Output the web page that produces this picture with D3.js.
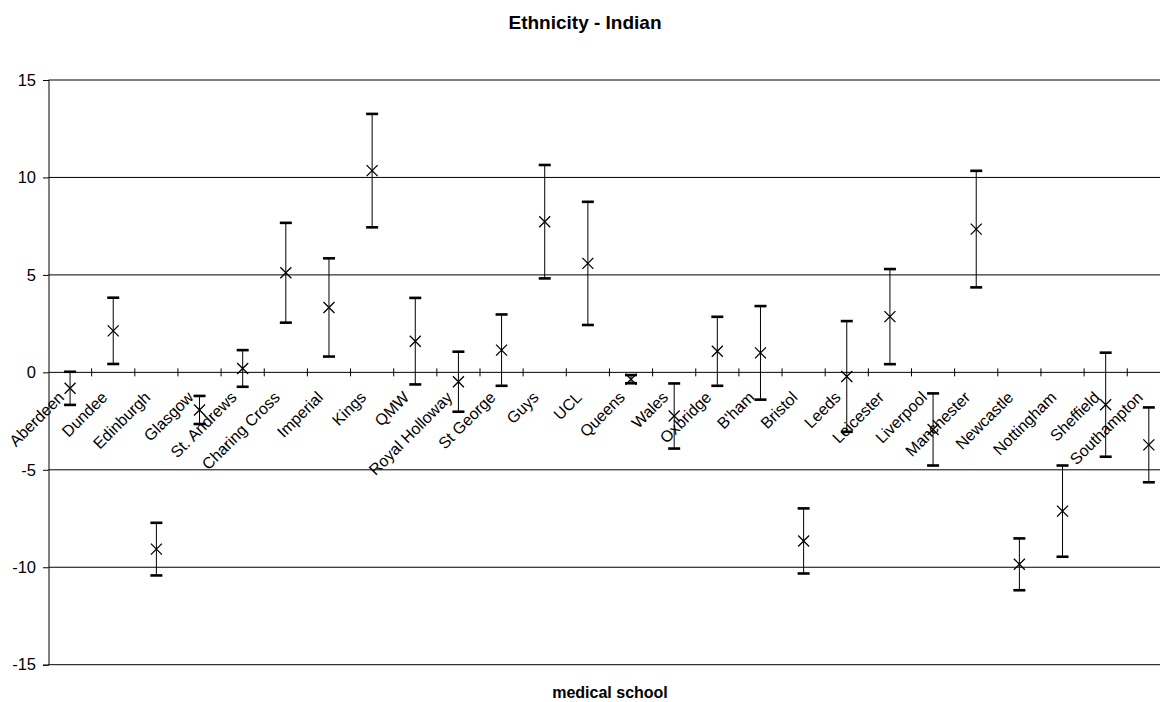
<!DOCTYPE html>
<html>
<head>
    <meta charset="utf-8">
    <title>Ethnicity - Indian</title>
    <script src="https://d3js.org/d3.v7.min.js"></script>
    <style>
        body { margin: 0; background: #fff; }
        text { font-family: Arial, "Liberation Sans", sans-serif; fill: #000; }
    </style>
</head>
<body>
    <svg width="1160" height="702"></svg>
    <script>
        // medical schools (category axis)
        const schools = ["Aberdeen", "Dundee", "Edinburgh", "Glasgow", "St. Andrews", "Charing Cross",
            "Imperial", "Kings", "QMW", "Royal Holloway", "St George", "Guys", "UCL", "Queens", "Wales",
            "Oxbridge", "B'ham", "Bristol", "Leeds", "Leicester", "Liverpool", "Manchester", "Newcastle",
            "Nottingham", "Sheffield", "Southampton"];

        // point estimate for each school
        const values = [-0.82, 2.13, -9.07, -1.93, 0.2, 5.11, 3.33, 10.35, 1.6, -0.48, 1.14, 7.73, 5.59,
            -0.35, -2.24, 1.08, 1.0, -8.65, -0.21, 2.86, -2.93, 7.35, -9.85, -7.12, -1.66, -3.72];

        // +/- error for each school
        const errors = [0.85, 1.7, 1.35, 0.72, 0.94, 2.56, 2.52, 2.91, 2.22, 1.54, 1.83, 2.91, 3.16,
            0.21, 1.67, 1.77, 2.4, 1.67, 2.84, 2.44, 1.85, 2.99, 1.33, 2.34, 2.67, 1.92];

        const yTicks = [-15, -10, -5, 0, 5, 10, 15];

        const svg = d3.select("svg");

        // plot area (right side runs past the picture edge, like the original)
        const plotLeft = 48.5, step = 43.15, plotTop = 80, plotBottom = 664.7;
        const plotRight = plotLeft + step * schools.length;

        const x = d3.scaleBand().domain(schools).range([plotLeft, plotRight]);
        const y = d3.scaleLinear().domain([-15, 15]).range([plotBottom, plotTop]);

        // gridlines
        svg.append("g")
          .selectAll("line")
          .data(yTicks)
          .enter().append("line")
          .attr("x1", plotLeft)
          .attr("x2", plotRight)
          .attr("y1", d => y(d))
          .attr("y2", d => y(d))
          .attr("stroke", "#000")
          .attr("stroke-width", 1);

        // y axis
        const yAxis = svg.append("g")
          .attr("transform", "translate(" + plotLeft + ",0)")
          .call(d3.axisLeft(y).tickValues(yTicks).tickSize(5.5).tickPadding(7).tickFormat(d => String(d)));
        yAxis.select(".domain").attr("stroke", "#000");
        yAxis.selectAll("text").style("font-size", "16.5px").attr("fill", "#000");

        // category axis along zero
        const x0 = y(0);
        const xAxis = svg.append("g");
        xAxis.selectAll("line")
          .data(schools.slice(1).concat(["end"]))
          .enter().append("line")
          .attr("x1", (d, i) => plotLeft + step * (i + 1))
          .attr("x2", (d, i) => plotLeft + step * (i + 1))
          .attr("y1", x0 - 4)
          .attr("y2", x0 + 4)
          .attr("stroke", "#000");

        xAxis.selectAll("text")
          .data(schools)
          .enter().append("text")
          .attr("transform", d => "translate(" + (x(d) + x.bandwidth() / 2 - 5) + "," + (x0 + 26) + ") rotate(-45)")
          .attr("text-anchor", "end")
          .style("font-size", "16px")
          .text(d => d);

        // error bars
        const bars = svg.append("g")
          .selectAll("g")
          .data(schools)
          .enter().append("g");

        bars.append("line")
          .attr("x1", d => x(d) + x.bandwidth() / 2)
          .attr("x2", d => x(d) + x.bandwidth() / 2)
          .attr("y1", (d, i) => y(values[i] + errors[i]))
          .attr("y2", (d, i) => y(values[i] - errors[i]))
          .attr("stroke", "#000")
          .attr("stroke-width", 1);

        [1, -1].forEach(sign => {
            bars.append("rect")
              .attr("x", d => x(d) + x.bandwidth() / 2 - 6)
              .attr("y", (d, i) => y(values[i] + sign * errors[i]) - 1.3)
              .attr("width", 12)
              .attr("height", 2.6)
              .attr("fill", "#000");
        });

        // x markers
        bars.append("path")
          .attr("d", (d, i) => {
              const cx = x(d) + x.bandwidth() / 2, cy = y(values[i]), s = 5.5;
              return "M" + (cx - s) + "," + (cy - s) + "L" + (cx + s) + "," + (cy + s) +
                     "M" + (cx - s) + "," + (cy + s) + "L" + (cx + s) + "," + (cy - s);
          })
          .attr("stroke", "#000")
          .attr("stroke-width", 1.3)
          .attr("fill", "none");

        // titles
        svg.append("text")
          .attr("x", 585)
          .attr("y", 29)
          .attr("text-anchor", "middle")
          .style("font-size", "19px")
          .style("font-weight", "bold")
          .text("Ethnicity - Indian");

        svg.append("text")
          .attr("x", 610)
          .attr("y", 698)
          .attr("text-anchor", "middle")
          .style("font-size", "16px")
          .style("font-weight", "bold")
          .text("medical school");
    </script>
</body>
</html>
